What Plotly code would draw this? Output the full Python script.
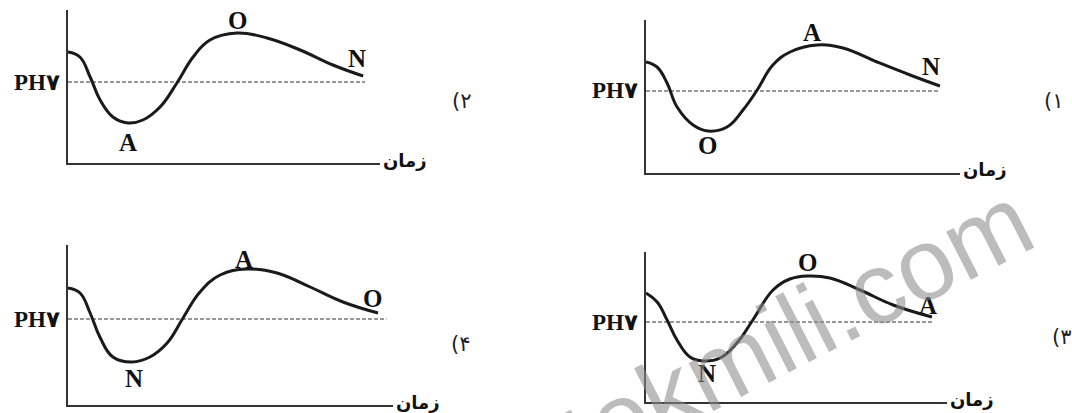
import plotly.graph_objects as go

W, H = 1072, 413

# time runs 0..10 along each time axis, pH (dashed line = pH 7)
t_opt1 = [0, 0.35, 0.67, 0.99, 1.50, 1.97, 2.58, 3.09, 3.54, 4.04, 4.59, 5.45, 6.27, 7.36, 8.41, 9.36]
ph_opt1 = [8.45, 8.2, 7.4, 6.2, 5.3, 5.0, 5.2, 6.05, 7.05, 8.3, 8.95, 9.3, 9.15, 8.45, 7.8, 7.25]

t_opt2 = [0, 0.38, 0.71, 1.03, 1.44, 1.92, 2.40, 2.95, 3.49, 4.01, 4.55, 5.42, 6.38, 7.44, 8.49, 9.46]
ph_opt2 = [8.5, 8.25, 7.25, 6.1, 5.25, 4.95, 5.1, 5.75, 6.95, 8.25, 9.1, 9.45, 9.2, 8.6, 7.85, 7.3]

t_opt3 = [0, 0.37, 0.70, 1.03, 1.46, 1.89, 2.46, 3.02, 3.55, 4.22, 4.78, 5.38, 6.11, 7.11, 8.21, 9.50]
ph_opt3 = [8.45, 8.0, 7.1, 6.1, 5.25, 5.05, 5.2, 5.95, 7.1, 8.6, 9.15, 9.3, 9.2, 8.6, 7.85, 7.25]

t_opt4 = [0, 0.37, 0.68, 0.98, 1.38, 1.97, 2.52, 3.05, 3.54, 4.06, 4.68, 5.51, 6.43, 7.45, 8.46, 9.54]
ph_opt4 = [8.55, 8.3, 7.3, 6.1, 5.1, 4.85, 5.1, 5.8, 7.05, 8.35, 9.2, 9.5, 9.3, 8.6, 7.85, 7.3]

neutral_ph = 7
# letters at (minimum, maximum, end of curve)
letters_opt1 = ["O", "A", "N"]
letters_opt2 = ["A", "O", "N"]
letters_opt3 = ["N", "O", "A"]
letters_opt4 = ["N", "A", "O"]
option_names = ["\u200e(۱", "\u200e(۲", "\u200e(۳", "\u200e(۴"]
ph_label = "PH۷"
time_label = "زمان"

# panel boxes in pixels: left, right, top, bottom of the axes, dashed line y, dashed end t
panels = [
    dict(t=t_opt1, ph=ph_opt1, letters=letters_opt1, box=(646, 960, 20, 173), dash_y=91, dash_end=9.36,
         opt=(1053, 101), shifts=[(0, -15), (-5, 12), (-9, 19)]),
    dict(t=t_opt2, ph=ph_opt2, letters=letters_opt2, box=(68, 380, 10, 163), dash_y=82, dash_end=9.52,
         opt=(461, 101), shifts=[(0, -19), (0, 13), (-6, 18)]),
    dict(t=t_opt3, ph=ph_opt3, letters=letters_opt3, box=(646, 947, 252, 402), dash_y=322, dash_end=9.53,
         opt=(1061, 337), shifts=[(4, -12), (0, 14), (-4, 12)]),
    dict(t=t_opt4, ph=ph_opt4, letters=letters_opt4, box=(68, 393, 245, 405), dash_y=319, dash_end=9.8,
         opt=(460, 344), shifts=[(2, -16), (-3, 10), (-6, 15)]),
]

PX_PER_PH = 20


def px_x(x):
    return x / W


def px_y(y):
    return 1 - y / H


fig = go.Figure()
annotations = []
layout_axes = {}

for i, p in enumerate(panels, start=1):
    left, right, top, bottom = p["box"]
    xa = "x" if i == 1 else f"x{i}"
    ya = "y" if i == 1 else f"y{i}"
    ylo = neutral_ph - (bottom - p["dash_y"]) / PX_PER_PH
    yhi = neutral_ph + (p["dash_y"] - top) / PX_PER_PH

    layout_axes["xaxis" if i == 1 else f"xaxis{i}"] = dict(
        domain=[px_x(left), px_x(right)], range=[0, 10], anchor=ya,
        showline=True, linecolor="#333", linewidth=2, showgrid=False,
        zeroline=False, showticklabels=False, ticks="", fixedrange=True)
    layout_axes["yaxis" if i == 1 else f"yaxis{i}"] = dict(
        domain=[px_y(bottom), px_y(top)], range=[ylo, yhi], anchor=xa,
        showline=True, linecolor="#333", linewidth=2, showgrid=False,
        zeroline=False, showticklabels=False, ticks="", fixedrange=True)

    # dashed pH 7 line
    fig.add_trace(go.Scatter(
        x=[0, p["dash_end"]], y=[neutral_ph, neutral_ph], xaxis=xa, yaxis=ya,
        mode="lines", line=dict(color="#777", width=1.3, dash="4px,2px"),
        hoverinfo="skip", showlegend=False))
    # pH curve
    fig.add_trace(go.Scatter(
        x=p["t"], y=p["ph"], xaxis=xa, yaxis=ya, mode="lines",
        line=dict(color="#1a1a1a", width=3, shape="spline", smoothing=1.2),
        hoverinfo="skip", showlegend=False))

    # point letters: min, max, end
    ph = p["ph"]
    i_min = ph.index(min(ph[:8]))
    i_max = ph.index(max(ph))
    i_end = len(ph) - 1
    for letter, idx, (dx, dy) in zip(p["letters"], [i_min, i_max, i_end], p["shifts"]):
        annotations.append(dict(
            x=p["t"][idx], y=ph[idx], xref=xa, yref=ya, text=f"<b>{letter}</b>", showarrow=False,
            xshift=dx, yshift=dy, xanchor="center", yanchor="middle",
            font=dict(family="Liberation Serif", size=25, color="#111")))

    # PH7 label
    annotations.append(dict(
        x=px_x(left - 6), y=neutral_ph, xref="paper", yref=ya, text=f"<b>{ph_label}</b>",
        showarrow=False, xanchor="right", yanchor="middle",
        font=dict(family="Liberation Serif, DejaVu Sans", size=23, color="#111")))
    # time label
    annotations.append(dict(
        x=px_x(right + 1), y=px_y(bottom), xref="paper", yref="paper", text=f"<b>{time_label}</b>",
        showarrow=False, xanchor="left", yanchor="middle", yshift=3,
        font=dict(family="DejaVu Sans", size=18, color="#111")))
    # option number
    ox, oy = p["opt"]
    annotations.append(dict(
        x=px_x(ox), y=px_y(oy), xref="paper", yref="paper", text=option_names[i - 1],
        showarrow=False, xanchor="center", yanchor="middle",
        font=dict(family="DejaVu Sans", size=21, color="#222")))

# watermark
annotations.append(dict(
    x=px_x(797), y=px_y(329), xref="paper", yref="paper", text="tekmili.com",
    showarrow=False, textangle=-27, xanchor="center", yanchor="middle",
    font=dict(family="Liberation Sans", size=102, color="rgba(140,140,140,0.58)")))

fig.update_layout(
    width=W, height=H,
    margin=dict(l=0, r=0, t=0, b=0),
    paper_bgcolor="white", plot_bgcolor="white",
    showlegend=False,
    annotations=annotations,
    **layout_axes,
)

fig.write_html("out.html", config={"displayModeBar": False},
               post_script="document.body.style.margin='0px';")
